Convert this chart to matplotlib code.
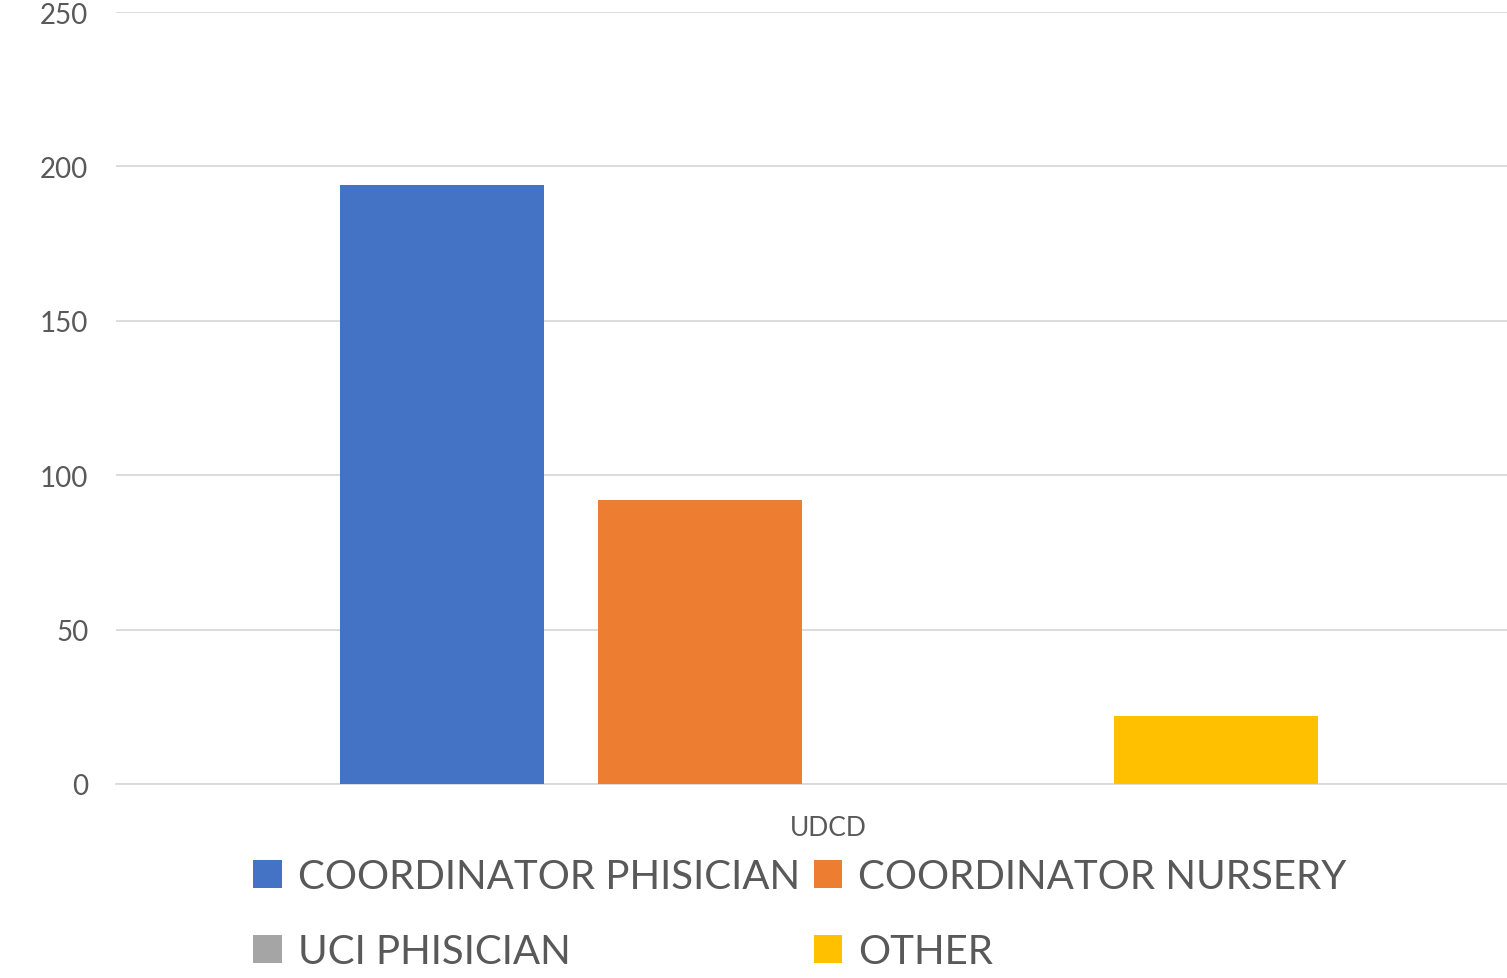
import numpy as np
import matplotlib.pyplot as plt

# data
category = "UDCD"
series = ["COORDINATOR PHISICIAN", "COORDINATOR NURSERY", "UCI PHISICIAN", "OTHER"]
values = [194, 92, 0, 22]
colors = ["#4472C4", "#ED7D31", "#A5A5A5", "#FFC000"]
yticks = [0, 50, 100, 150, 200, 250]

plt.rcParams['font.family'] = ['Lato', 'DejaVu Sans']
text_color = "#595959"

fig = plt.figure(figsize=(15.07, 9.79), dpi=100)
ax = fig.add_axes([116 / 1507, 1 - 785 / 979, 1 - 116 / 1507, (785 - 13) / 979])

# Excel-style clustered bars, one category
bar_w = 0.1432
step = 0.181
offsets = (np.arange(len(series)) - (len(series) - 1) / 2) * step
bars = []
for i, name in enumerate(series):
    b = ax.bar(offsets[i], values[i], width=bar_w, color=colors[i], label=name, zorder=3)
    bars.append(b)

ax.set_xlim(-0.5, 0.476)
ax.set_ylim(0, 250)
ax.set_yticks(yticks)
ax.set_xticks([0])
ax.set_xticklabels([category])

ax.grid(axis='y', color='#D9D9D9', linewidth=1.3, zorder=0)
for s in ['top', 'right', 'left']:
    ax.spines[s].set_visible(False)
ax.spines['bottom'].set_color('#D9D9D9')
ax.spines['bottom'].set_linewidth(1.3)
ax.tick_params(axis='both', length=0, colors=text_color)
ax.tick_params(axis='y', labelsize=20, pad=20)
ax.tick_params(axis='x', labelsize=19, pad=22)

# legend: row 1 = coordinators, row 2 = UCI / other
order = [0, 2, 1, 3]
leg = fig.legend([bars[i] for i in order], [series[i] for i in order],
                 ncol=2, loc='center', bbox_to_anchor=(800 / 1507, 1 - 915 / 979),
                 frameon=False, fontsize=29, handlelength=0.7, handleheight=0.7,
                 handletextpad=0.4, columnspacing=0.35, labelspacing=0.95)
for t in leg.get_texts():
    t.set_color(text_color)

fig.savefig("out.png", dpi=100)
